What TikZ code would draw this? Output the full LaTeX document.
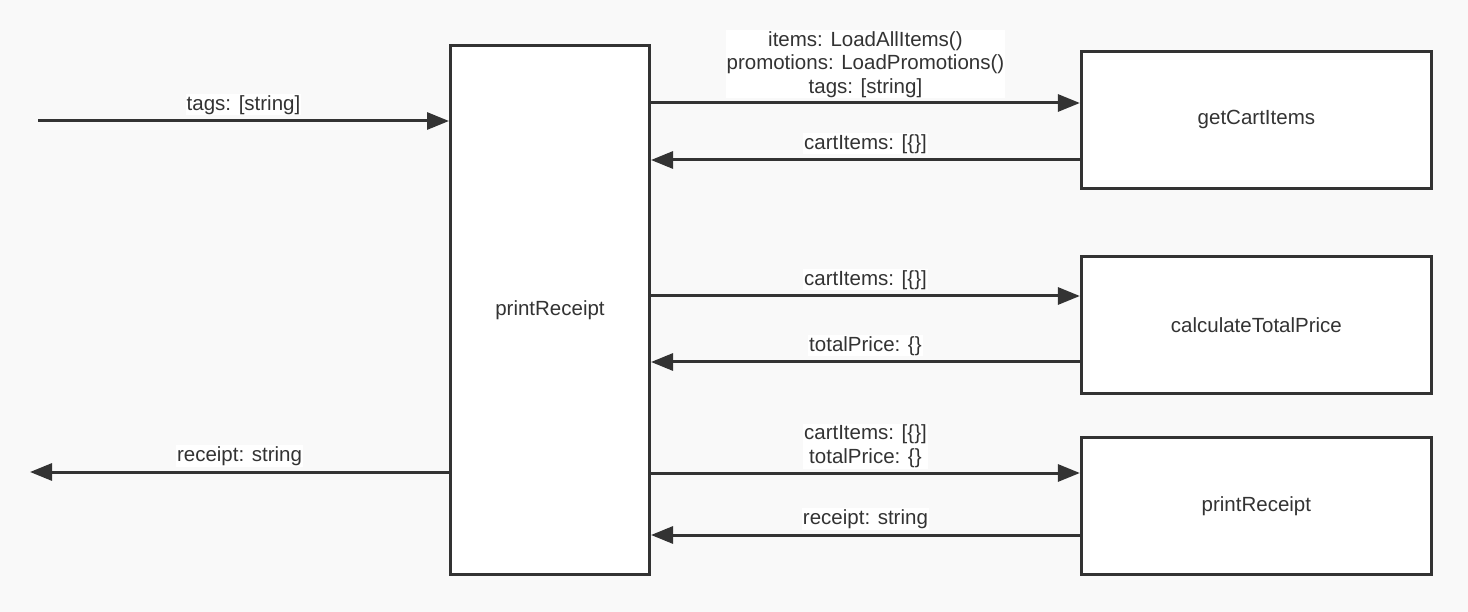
\documentclass[tikz,border=0pt]{standalone}
\usepackage{fontspec}
\setmainfont{Liberation Sans}
\usetikzlibrary{arrows.meta}
\definecolor{inkgray}{HTML}{333333}
\definecolor{paper}{HTML}{F9F9F9}

\begin{document}
\begin{tikzpicture}[
    x=1pt, y=-1pt,
    font=\fontsize{20.5}{23.5}\selectfont,
    text=inkgray,
    func/.style={draw=inkgray, fill=white, line width=3pt,
      minimum width=350pt, minimum height=137pt, inner sep=0pt},
    flow/.style={draw=inkgray, line width=3pt,
      -{Triangle[length=22pt, width=17pt]}},
    lbl/.style={fill=white, inner sep=1pt, align=center}]
    % BACKGROUND
    \fill[paper] (0,0) rectangle (1468,612);
    \useasboundingbox (0,0) rectangle (1468,612);

    % NODES
    % main function
    \node[func, minimum width=199pt, minimum height=528.5pt] (main) at (550,309.75) {printReceipt};
    % helper functions
    \node[func] (cart) at (1256.4,119.7) {getCartItems};
    \node[func] (total) at (1256.4,325) {calculateTotalPrice};
    \node[func] (receipt) at (1256.4,505.75) {printReceipt};
    % free ends
    \coordinate (in) at (38,121);
    \coordinate (out) at (30,472);

    % ARROWS
    \draw[flow] (in) -- (main.west |- in) node[lbl, midway, above=4pt] {tags: [string]};
    \draw[flow] (main.west |- out) -- (out) node[lbl, midway, above=4pt] {receipt: string};

    \draw[flow] (main.east |- 0,103) -- (cart.west |- 0,103)
      node[lbl, midway, above=3pt] {items: LoadAllItems()\\promotions: LoadPromotions()\\tags: [string]};
    \draw[flow] (cart.west |- 0,160) -- (main.east |- 0,160) node[lbl, midway, above=4pt] {cartItems: [\{\}]};

    \draw[flow] (main.east |- 0,296) -- (total.west |- 0,296) node[lbl, midway, above=4pt] {cartItems: [\{\}]};
    \draw[flow] (total.west |- 0,362) -- (main.east |- 0,362) node[lbl, midway, above=4pt] {totalPrice: \{\}};

    \draw[flow] (main.east |- 0,473) -- (receipt.west |- 0,473)
      node[lbl, midway, above=3pt] {cartItems: [\{\}]\\totalPrice: \{\}};
    \draw[flow] (receipt.west |- 0,535) -- (main.east |- 0,535) node[lbl, midway, above=4pt] {receipt: string};
\end{tikzpicture}
\end{document}
